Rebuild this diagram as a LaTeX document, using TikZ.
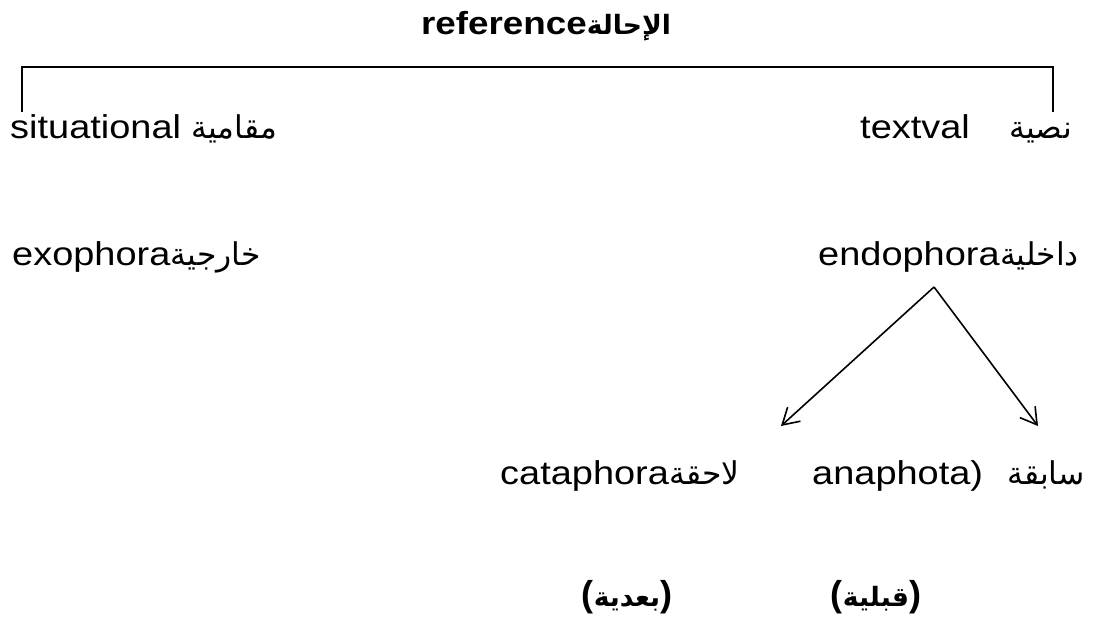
\documentclass[tikz,border=0pt]{standalone}
\usepackage{fontspec}
\usepackage{graphicx}
\setmainfont{Liberation Sans}
\newfontfamily\arabicfont[Script=Arabic,Scale=0.95]{DejaVu Sans}
\TeXXeTstate=1
\usetikzlibrary{arrows.meta}
\newcommand{\artxt}[1]{{\arabicfont\beginR #1\endR}}
\newcommand{\sx}[1]{\scalebox{1.15}[1]{#1}}
\tikzset{
  lbl/.style={inner sep=0pt, anchor=base west, font=\fontsize{33}{40}\selectfont},
  lble/.style={inner sep=0pt, anchor=base east, font=\fontsize{33}{40}\selectfont},
  ttl/.style={inner sep=0pt, anchor=base, font=\fontsize{32}{38}\selectfont\bfseries},
  btm/.style={inner sep=0pt, anchor=base, font=\fontsize{36}{42}\selectfont\bfseries},
  conn/.style={line width=1.6pt, -{Straight Barb[length=16pt,width=19pt,line width=1.6pt]}},
  brk/.style={line width=1.5pt}
}
\begin{document}
\begin{tikzpicture}[x=1pt,y=-1pt]
\useasboundingbox[fill=white] (0,0) rectangle (1094,623);
% title
\node[ttl] (title) at (546,35) {\sx{reference}{\fontsize{28}{32}\selectfont\artxt{الإحالة}}};
% bracket
\coordinate (bl) at (22,112);
\coordinate (br) at (1053,112);
\draw[brk] (bl) -- (22,67) -- (1053,67) -- (br);
% row 1
\node[lbl] (sit) at (10,139) {\sx{situational}};
\node[lble] (sitA) at (277,139) {\artxt{مقامية}};
\node[lbl] (txt) at (860,139) {\sx{textval}};
\node[lble] (txtA) at (1072,139) {\artxt{نصية}};
% row 2
\node[lbl] (exo) at (12,265) {\sx{exophora}};
\node[lbl] (exoA) at (exo.base east) {\artxt{خارجية}};
\node[lbl] (endo) at (818,265) {\sx{endophora}};
\node[lbl] (endoA) at (endo.base east) {\artxt{داخلية}};
% arrows
\coordinate (apex) at (934,287);
\coordinate (tipL) at (781,426);
\coordinate (tipR) at (1038,426);
\draw[conn] (apex) -- (tipL);
\draw[conn] (apex) -- (tipR);
% row 3
\node[lbl] (cata) at (500,484) {\sx{cataphora}};
\node[lbl] (cataA) at (cata.base east) {\artxt{لاحقة}};
\node[lbl] (ana) at (812,484) {\sx{anaphota)}};
\node[lble] (anaA) at (1085,484) {\artxt{سابقة}};
% row 4
\node[btm] (baad) at (627,606) {({\fontsize{28}{32}\selectfont\artxt{بعدية}})};
\node[btm] (qabl) at (876,606) {({\fontsize{28}{32}\selectfont\artxt{قبلية}})};
\end{tikzpicture}
\end{document}
